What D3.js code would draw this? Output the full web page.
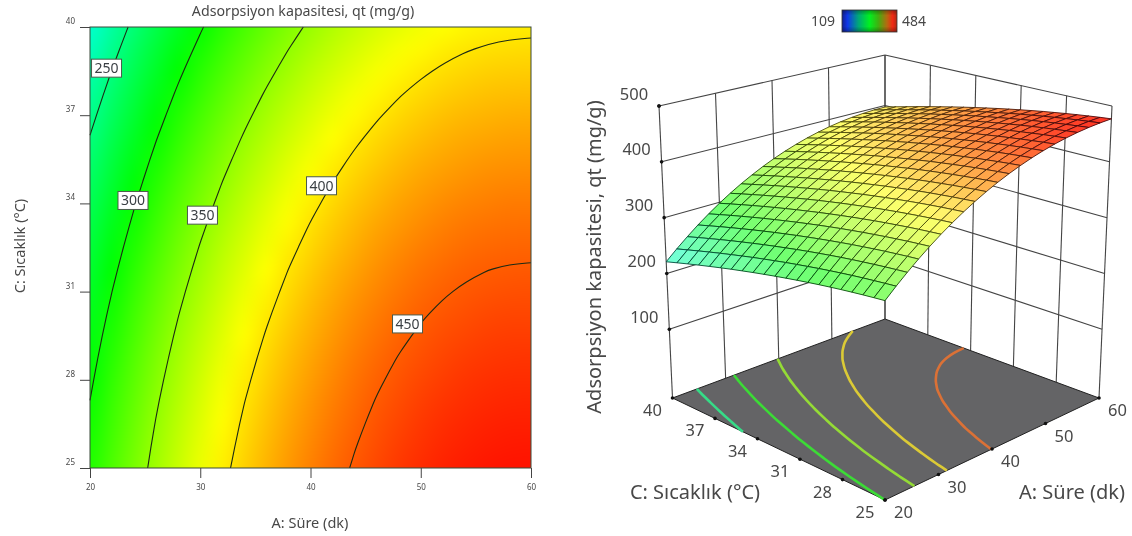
<!DOCTYPE html>
<html><head><meta charset="utf-8">
<script src="https://cdn.jsdelivr.net/npm/d3@7/dist/d3.min.js"></script>
<style>
html,body{margin:0;padding:0;background:#fff;}
svg{display:block;filter:blur(0.55px);}
text{font-family:"Noto Sans","Open Sans",sans-serif;fill:#484848;}
</style></head><body>
<svg id="c" width="1132" height="536"></svg>
<script>
// ---------- data ----------
const chartTitle = "Adsorpsiyon kapasitesi, qt (mg/g)";
const xTitle = "A: Süre (dk)";
const yTitle = "C: Sıcaklık (°C)";
const aTicks = [20,30,40,50,60];
const cTicks = [25,28,31,34,37,40];
const zTicks = [100,200,300,400,500];
const contourLevels = [250,300,350,400,450];
// the floor traces of the 3D panel sit at slightly different heights in the picture
const floorLevels = [259,308,352,393,436];
const floorTints = [250,300,350,400,450];
const legendRange = [109,484];
const legendOffsets = [0,0.1,0.3,0.5,0.66,0.82,0.92,1];
const legendColors = ["#14208f","#1038e8","#00a878","#00f020","#40b010","#b86810","#f02814","#b02a14"];
// label anchors: level, A, C
const labelLevels = [250,300,350,400,450];
const labelA = [21.5,23.9,30.2,41.0,48.8];
const labelC = [38.6,34.1,33.6,34.6,29.9];
// grid axes
const aGrid = [20,22,24,26,28,30,32,34,36,38,40,42,44,46,48,50,52,54,56,58,60];
const cGrid = [25,25.75,26.5,27.25,28,28.75,29.5,30.25,31,31.75,32.5,33.25,34,34.75,35.5,36.25,37,37.75,38.5,39.25,40];
// qt (mg/g): one row per cGrid value, one column per aGrid value
const qt = [
[308.0,324.8,340.7,355.8,370.0,383.3,395.7,407.2,417.8,427.6,436.5,444.5,451.6,457.9,463.3,467.8,471.4,474.1,475.9,476.9,477.0],
[305.6,322.4,338.3,353.5,367.7,381.0,393.4,404.9,415.5,425.4,434.3,442.3,449.4,455.7,461.1,465.7,469.3,472.0,473.8,474.8,475.0],
[303.0,319.8,335.8,350.9,365.2,378.5,390.9,402.5,413.1,422.9,431.9,439.9,447.0,453.4,458.8,463.3,467.0,469.7,471.5,472.6,472.7],
[300.2,317.1,333.0,348.2,362.4,375.8,388.2,399.8,410.4,420.3,429.2,437.3,444.4,450.8,456.2,460.8,464.4,467.2,469.1,470.1,470.3],
[297.2,314.1,330.0,345.2,359.5,372.8,385.3,396.9,407.6,417.4,426.4,434.5,441.6,448.0,453.5,458.0,461.7,464.5,466.4,467.4,467.6],
[294.0,310.9,326.9,342.0,356.3,369.7,382.2,393.8,404.5,414.4,423.4,431.4,438.6,445.0,450.5,455.1,458.8,461.6,463.5,464.5,464.7],
[290.6,307.5,323.5,338.7,353.0,366.4,378.9,390.5,401.2,411.1,420.1,428.2,435.4,441.8,447.3,451.9,455.6,458.4,460.3,461.4,461.7],
[286.9,303.9,319.9,335.1,349.4,362.8,375.4,387.0,397.7,407.6,416.7,424.8,432.0,438.4,443.9,448.6,452.3,455.1,457.0,458.2,458.4],
[283.1,300.0,316.1,331.3,345.7,359.1,371.6,383.3,394.0,404.0,413.0,421.1,428.4,434.8,440.4,445.0,448.7,451.6,453.5,454.7,454.9],
[279.0,296.0,312.1,327.3,341.7,355.1,367.7,379.4,390.1,400.1,409.1,417.3,424.5,431.0,436.6,441.2,445.0,447.8,449.8,450.9,451.2],
[274.8,291.8,307.9,323.1,337.5,351.0,363.6,375.2,386.0,396.0,405.1,413.2,420.5,427.0,432.6,437.2,441.0,443.9,445.9,447.0,447.3],
[270.3,287.3,303.4,318.7,333.1,346.6,359.2,370.9,381.7,391.7,400.8,409.0,416.3,422.8,428.3,433.0,436.8,439.7,441.7,442.9,443.2],
[265.7,282.7,298.8,314.1,328.5,342.0,354.7,366.4,377.2,387.2,396.3,404.5,411.8,418.3,423.9,428.6,432.5,435.4,437.4,438.6,438.9],
[260.8,277.9,294.0,309.3,323.7,337.3,349.9,361.6,372.4,382.5,391.6,399.8,407.2,413.7,419.3,424.0,427.9,430.8,432.8,434.1,434.4],
[255.8,272.8,288.9,304.3,318.7,332.3,344.9,356.7,367.5,377.6,386.7,394.9,402.3,408.8,414.5,419.2,423.1,426.0,428.1,429.3,429.7],
[250.5,267.5,283.7,299.1,313.5,327.1,339.8,351.5,362.4,372.4,381.6,389.9,397.2,403.8,409.5,414.2,418.1,421.0,423.1,424.4,424.7],
[245.0,262.1,278.3,293.6,308.1,321.7,334.4,346.2,357.0,367.1,376.3,384.6,392.0,398.5,404.2,409.0,412.9,415.9,417.9,419.2,419.6],
[239.3,256.4,272.6,288.0,302.5,316.1,328.8,340.6,351.5,361.6,370.8,379.1,386.5,393.1,398.8,403.6,407.5,410.5,412.6,413.9,414.3],
[233.4,250.5,266.7,282.2,296.7,310.3,323.0,334.8,345.7,355.8,365.1,373.4,380.8,387.4,393.1,397.9,401.9,404.9,407.0,408.3,408.7],
[227.3,244.4,260.7,276.1,290.6,304.3,317.0,328.8,339.8,349.9,359.1,367.5,374.9,381.5,387.3,392.1,396.0,399.1,401.2,402.5,403.0],
[221.0,238.2,254.4,269.9,284.4,298.1,310.8,322.7,333.6,343.8,353.0,361.4,368.8,375.5,381.2,386.1,390.0,393.1,395.2,396.6,397.0]
];
// colour stops of the Design-Expert style ramp
const rampValues = [109,202.75,296.5,390.25,484];
const rampColors = ["#0000ff","#00ffff","#00ff00","#ffff00","#ff0000"];

// ---------- shared ----------
const svg = d3.select("#c");
const color = d3.scaleLinear().domain(rampValues).range(rampColors).interpolate(d3.interpolateRgb);
const nA = aGrid.length, nC = cGrid.length;
const idxA = d3.scaleLinear([0,nA-1],[aGrid[0],aGrid[nA-1]]);
const idxC = d3.scaleLinear([0,nC-1],[cGrid[0],cGrid[nC-1]]);

// contour polylines (A,C) from d3.contours with the domain border removed
function contourLines(level){
  const shape = d3.contours().size([nA,nC]).thresholds([level])(qt.flat())[0];
  const out = [];
  const clampA = d3.scaleLinear([0.5,nA-0.5],[0,nA-1]).clamp(true);
  const clampC = d3.scaleLinear([0.5,nC-0.5],[0,nC-1]).clamp(true);
  shape.coordinates.forEach(poly=>poly.forEach(ring=>{
    const pts = ring.map(p=>[clampA(p[0]),clampC(p[1])]);
    const onBorder=(p,q)=>(p[0]===q[0]&&(p[0]===0||p[0]===nA-1))||(p[1]===q[1]&&(p[1]===0||p[1]===nC-1));
    const n=pts.length-1;
    let start=0;
    for(let i=0;i<n;i++){ if(onBorder(pts[i],pts[i+1])){start=i+1;break;} }
    let cur=[];
    for(let k=0;k<n;k++){
      const p=pts[(start+k)%n], q=pts[(start+k+1)%n];
      if(onBorder(p,q)){ if(cur.length>1) out.push(cur); cur=[]; }
      else { if(!cur.length) cur.push(p); cur.push(q); }
    }
    if(cur.length>1) out.push(cur);
  }));
  return out.map(l=>l.map(p=>[idxA(p[0]),idxC(p[1])]));
}
const linesByLevel = contourLevels.map(l=>({level:l,lines:contourLines(l)}));
const floorLines = floorLevels.map((l,i)=>({level:floorTints[i],lines:contourLines(l)}));

// ---------- left: contour plot ----------
const x2 = d3.scaleLinear().domain([20,60]).range([90,531]);
const y2 = d3.scaleLinear().domain([25,40]).range([468,27]);
const left = svg.append("g");
const src = document.createElement("canvas"); src.width=nA; src.height=nC;
const sctx = src.getContext("2d");
qt.forEach((row,j)=>row.forEach((v,i)=>{ sctx.fillStyle=color(v); sctx.fillRect(i,nC-1-j,1,1); }));
const big = document.createElement("canvas"); big.width=441; big.height=441;
const bctx = big.getContext("2d"); bctx.imageSmoothingEnabled=true; bctx.imageSmoothingQuality="high";
bctx.drawImage(src,0.5,0.5,nA-1,nC-1,0,0,441,441);
left.append("image").attr("href",big.toDataURL()).attr("x",x2(20)).attr("y",y2(40)).attr("width",441).attr("height",441);
const line2 = d3.line().x(d=>x2(d[0])).y(d=>y2(d[1])).curve(d3.curveBasis);
left.selectAll(".cl").data(linesByLevel.flatMap(d=>d.lines)).join("path")
  .attr("d",line2).attr("fill","none").attr("stroke","#1c2a14").attr("stroke-width",1.1);
left.append("rect").attr("x",x2(20)).attr("y",y2(40)).attr("width",441).attr("height",441)
  .attr("fill","none").attr("stroke","#3a4a3a").attr("stroke-width",1);
const gx = left.append("g").attr("transform",`translate(0,${y2(25)})`)
  .call(d3.axisBottom(x2).tickValues(aTicks).tickSize(10).tickSizeOuter(0));
const gy = left.append("g").attr("transform",`translate(${x2(20)},0)`)
  .call(d3.axisLeft(y2).tickValues(cTicks).tickSize(10).tickSizeOuter(0));
[gx,gy].forEach(g=>{g.select(".domain").remove(); g.selectAll("line").attr("stroke","#444");
  g.selectAll("text").style("font-size","8px").attr("font-family",null);});
gx.selectAll("text").attr("y",16);
gy.selectAll("text").attr("x",-15).attr("dy","-0.45em");
left.append("text").attr("x",303).attr("y",16).attr("text-anchor","middle").style("font-size","14.2px").text(chartTitle);
left.append("text").attr("x",310).attr("y",528).attr("text-anchor","middle").style("font-size","14.5px").text(xTitle);
left.append("text").attr("transform","translate(25,246) rotate(-90)").attr("text-anchor","middle").style("font-size","14.5px").text(yTitle);
const lab = left.selectAll(".lab").data(labelLevels).join("g")
  .attr("transform",(d,i)=>`translate(${x2(labelA[i])},${y2(labelC[i])})`);
lab.append("rect").attr("x",-15).attr("y",-9).attr("width",30).attr("height",18).attr("fill","#fff").attr("stroke","#4a5a4a").attr("stroke-width",1);
lab.append("text").attr("text-anchor","middle").attr("y",5).style("font-size","14px").style("fill","#3a3f44").text(d=>d);

// ---------- right: box with its eight corners measured on the picture ----------
const uS = d3.scaleLinear().domain([20,60]).range([0,1]);
const vS = d3.scaleLinear().domain([25,40]).range([0,1]);
const wS = d3.scaleLinear().domain([-23,500]).range([0,1]);
const floorCorners = {front:[885,500],right:[1099,398],back:[885,319],left:[672.5,398]};
const topCorners   = {front:[885,185],right:[1112,106],back:[885,55], left:[659,106]};
function bil(q,u,v){
  const f=(1-u)*(1-v), r=u*(1-v), b=u*v, l=(1-u)*v;
  return [0,1].map(k=>f*q.front[k]+r*q.right[k]+b*q.back[k]+l*q.left[k]);
}
function proj(a,c,z){
  const u=uS(a),v=vS(c),w=wS(z);
  const lo=bil(floorCorners,u,v),hi=bil(topCorners,u,v);
  return [lo[0]+(hi[0]-lo[0])*w, lo[1]+(hi[1]-lo[1])*w];
}
const floorZ = wS.domain()[0], topZ = 500;
const right = svg.append("g");
const L = d3.line();
const wallSegs=[];
aTicks.forEach(a=>wallSegs.push([proj(a,40,floorZ),proj(a,40,topZ)]));
cTicks.forEach(c=>wallSegs.push([proj(60,c,floorZ),proj(60,c,topZ)]));
zTicks.forEach(z=>{wallSegs.push([proj(20,40,z),proj(60,40,z)]);wallSegs.push([proj(60,40,z),proj(60,25,z)]);});
right.selectAll(".wall").data(wallSegs).join("path").attr("d",L).attr("fill","none").attr("stroke","#444").attr("stroke-width",1.1);
right.append("path").attr("d",L([proj(20,25,floorZ),proj(60,25,floorZ),proj(60,40,floorZ),proj(20,40,floorZ)])+"Z")
  .attr("fill","#646466").attr("stroke","#222").attr("stroke-width",1);
const floorLine = d3.line().x(d=>proj(d[0],d[1],floorZ)[0]).y(d=>proj(d[0],d[1],floorZ)[1]).curve(d3.curveBasis);
floorLines.forEach(d=>{
  right.selectAll(null).data(d.lines).join("path").attr("d",floorLine).attr("fill","none")
    .attr("stroke",d3.interpolateRgb(color(d.level),"#999")(0.35)).attr("stroke-width",2.6);
});
const quads=[];
for(let j=0;j<nC-1;j++)for(let i=0;i<nA-1;i++){
  const v=(qt[j][i]+qt[j][i+1]+qt[j+1][i]+qt[j+1][i+1])/4;
  const pts=[proj(aGrid[i],cGrid[j],qt[j][i]),proj(aGrid[i+1],cGrid[j],qt[j][i+1]),proj(aGrid[i+1],cGrid[j+1],qt[j+1][i+1]),proj(aGrid[i],cGrid[j+1],qt[j+1][i])];
  quads.push({v,pts,depth:i+j});
}
quads.sort((a,b)=>b.depth-a.depth);
function face(d){
  const t=d3.scaleLinear([250,400,484],[0.45,0.42,0.12]).clamp(true)(d.v);
  return d3.interpolateRgb(color(d.v),"#fff")(t);
}
function edge(d){
  const c=d3.rgb(color(d.v));
  return d3.rgb(c.r*0.3,c.g*0.3,c.b*0.3+10).formatHex();
}
right.selectAll(".q").data(quads).join("path").attr("d",d=>L(d.pts)+"Z")
  .attr("fill",face).attr("stroke",edge).attr("stroke-width",0.9).attr("stroke-linejoin","round");
const dots=[...zTicks.map(z=>proj(20,40,z)),proj(20,40,topZ),
  ...cTicks.map(c=>proj(20,c,floorZ)),...aTicks.map(a=>proj(a,25,floorZ))];
right.selectAll(".dot").data(dots).join("circle").attr("cx",d=>d[0]).attr("cy",d=>d[1]).attr("r",1.8).attr("fill","#111");
function tickLabels(vals,pos,dx,dy){
  right.selectAll(null).data(vals).join("text").attr("text-anchor","middle")
    .attr("x",d=>pos(d)[0]+dx).attr("y",d=>pos(d)[1]+dy+6).style("font-size","16.5px").text(d=>d);
}
tickLabels(zTicks,z=>proj(20,40,z),-25,-12.5);
tickLabels(cTicks,c=>proj(20,c,floorZ),-20,12);
tickLabels(aTicks,a=>proj(a,25,floorZ),18.5,12);
right.append("text").attr("x",695).attr("y",499).attr("text-anchor","middle").style("font-size","20px").text(yTitle);
right.append("text").attr("x",1072).attr("y",499).attr("text-anchor","middle").style("font-size","20px").text(xTitle);
right.append("text").attr("transform","translate(601,257) rotate(-90)").attr("text-anchor","middle").style("font-size","20px").text(chartTitle);
// legend
const defs=svg.append("defs");
const grad=defs.append("linearGradient").attr("id","lg");
grad.selectAll("stop").data(legendOffsets).join("stop")
  .attr("offset",d=>d).attr("stop-color",(d,i)=>legendColors[i]);
const shadeGrad=defs.append("linearGradient").attr("id","ls").attr("x1",0).attr("x2",0).attr("y1",0).attr("y2",1);
shadeGrad.selectAll("stop").data([0,0.25,0.75,1]).join("stop")
  .attr("offset",d=>d).attr("stop-color","#000").attr("stop-opacity",(d,i)=>[0.3,0,0,0.3][i]);
right.append("rect").attr("x",842).attr("y",10).attr("width",55).attr("height",22).attr("fill","url(#lg)");
right.append("rect").attr("x",842).attr("y",10).attr("width",55).attr("height",22).attr("fill","url(#ls)").attr("stroke","#333").attr("stroke-width",0.8);
right.append("text").attr("x",835).attr("y",26).attr("text-anchor","end").style("font-size","14px").text(legendRange[0]);
right.append("text").attr("x",902).attr("y",26).style("font-size","14px").text(legendRange[1]);
</script>
</body></html>
